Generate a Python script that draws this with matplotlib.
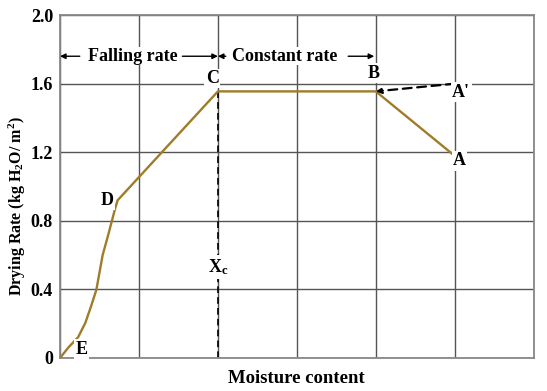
import numpy as np
import matplotlib.pyplot as plt

plt.rcParams['font.family'] = ['Liberation Serif', 'DejaVu Serif']
plt.rcParams['font.weight'] = 'bold'
plt.rcParams['mathtext.fontset'] = 'custom'
plt.rcParams['mathtext.rm'] = 'Liberation Serif:bold'
plt.rcParams['mathtext.it'] = 'Liberation Serif:bold'
plt.rcParams['mathtext.bf'] = 'Liberation Serif:bold'

# curva de secagem: E -> D (curva), D -> C, C -> B (taxa constante), B -> A
curve_x = [0.0, 0.10, 0.23, 0.32, 0.39, 0.46, 0.54, 0.61, 0.66, 0.70, 0.73,
           2.0, 4.0, 4.97]
curve_y = [0.0, 0.058, 0.122, 0.204, 0.297, 0.397, 0.60, 0.717, 0.805, 0.875, 0.92,
           1.555, 1.555, 1.19]

# pontos nomeados
pt_labels = ['E', 'D', 'C', 'B', "A'", 'A']
pt_x = [0.27, 0.60, 1.93, 3.97, 5.08, 5.06]
pt_y = [0.05, 0.92, 1.63, 1.66, 1.55, 1.15]

a_prime = (5.0, 1.60)
b_point = (4.0, 1.555)
xc = 2.0
xc_label_y = 0.53
arrow_y = 1.76

yticks = [0, 0.4, 0.8, 1.2, 1.6, 2.0]
ytick_labels = ['0', '0.4', '0.8', '1.2', '1.6', '2.0']

fig = plt.figure(figsize=(5.47, 3.91), dpi=100)
ax = fig.add_axes([0.1097, 0.0844, 0.866, 0.877])

ax.set_xlim(0, 6)
ax.set_ylim(0, 2.0)
ax.set_xticks(range(7))
ax.set_xticklabels([])
ax.set_yticks(yticks)
ax.set_yticklabels(ytick_labels, fontsize=13, fontweight='bold')
ax.tick_params(length=0, pad=5)
ax.grid(True, color='#555555', linewidth=1.0)
ax.set_axisbelow(True)
for s in ax.spines.values():
    s.set_color('#888888')
    s.set_linewidth(1.3)

ax.plot(curve_x, curve_y, color='#A07C28', linewidth=1.7, zorder=3,
        solid_joinstyle='round')

# linha tracejada vertical em Xc
ax.plot([xc, xc], [0, 1.555], color='black', linestyle=(0, (4, 2.5)), linewidth=1.2, zorder=2)
ax.text(xc, xc_label_y, 'X$_\\mathrm{c}$', fontsize=13, fontweight='bold',
        ha='center', va='center', zorder=4,
        bbox=dict(facecolor='white', edgecolor='none', pad=1.5))

# A' -> B tracejado com seta
ax.annotate('', xy=b_point, xytext=a_prime,
            arrowprops=dict(arrowstyle='-|>', color='black', linestyle=(0, (4, 2.5)),
                            linewidth=1.6, mutation_scale=8, shrinkA=0, shrinkB=0),
            zorder=4)

for lab, x, y in zip(pt_labels, pt_x, pt_y):
    ax.text(x, y, lab, fontsize=13, fontweight='bold', ha='center', va='center',
            zorder=5, bbox=dict(facecolor='white', edgecolor='none', pad=1.0))

# setas de periodo
arrow_kw = dict(arrowstyle='-|>', color='black', linewidth=1.0, mutation_scale=8,
                shrinkA=0, shrinkB=0)
ax.annotate('', xy=(0, arrow_y), xytext=(0.25, arrow_y), arrowprops=arrow_kw)
ax.annotate('', xy=(2.0, arrow_y), xytext=(1.55, arrow_y), arrowprops=arrow_kw)
ax.annotate('', xy=(2.0, arrow_y), xytext=(2.1, arrow_y), arrowprops=arrow_kw)
ax.annotate('', xy=(3.98, arrow_y), xytext=(3.65, arrow_y), arrowprops=arrow_kw)
ax.text(0.92, arrow_y, 'Falling rate', fontsize=13, fontweight='bold',
        ha='center', va='center', zorder=5,
        bbox=dict(facecolor='white', edgecolor='none', pad=0.5))
ax.text(2.85, arrow_y, 'Constant rate', fontsize=13, fontweight='bold',
        ha='center', va='center', zorder=5,
        bbox=dict(facecolor='white', edgecolor='none', pad=0.5))

ax.set_xlabel('Moisture content', fontsize=13.5, fontweight='bold', labelpad=4)
ax.set_ylabel('Drying Rate (kg H$_\\mathrm{2}$O/ m$^\\mathrm{2}$)', fontsize=11.5,
              fontweight='bold')
ax.yaxis.set_label_coords(-0.068, 0.443)

fig.savefig('out.png', dpi=100)
